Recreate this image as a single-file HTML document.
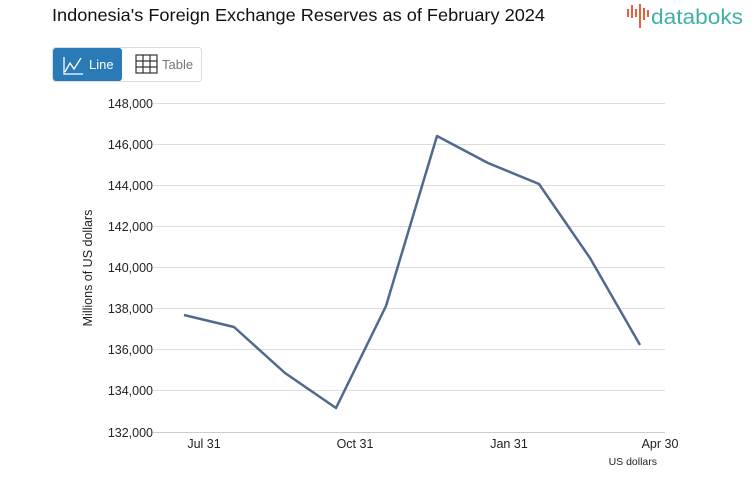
<!DOCTYPE html>
<html><head><style>
body{margin:0;background:#fff;width:753px;height:498px;overflow:hidden;font-family:"Liberation Sans",sans-serif}
</style></head><body>
<svg width="753" height="498" xmlns="http://www.w3.org/2000/svg" font-family="Liberation Sans, sans-serif">
<text x="52" y="21" font-size="17.5" fill="#111" textLength="493" lengthAdjust="spacingAndGlyphs">Indonesia's Foreign Exchange Reserves as of February 2024</text>
<g fill="#e8603c"><rect x="627" y="9" width="2" height="8"/><rect x="631" y="5" width="2" height="13"/><rect x="635" y="9" width="2" height="8"/><rect x="639" y="4" width="2" height="24"/><rect x="643" y="8" width="2" height="12"/><rect x="647" y="10" width="2" height="7"/></g>
<text x="651" y="24" font-size="21" fill="#3fb0a8" textLength="92" lengthAdjust="spacingAndGlyphs">databoks</text>
<rect x="52.5" y="47.5" width="149" height="34" rx="3" fill="#fff" stroke="#ddd"/>
<rect x="53" y="48" width="69" height="33" rx="3" fill="#2a7ab8"/>
<path d="M64 57 V74 H83 M65 72 L70 63 L74 69 L81 58" stroke="#fff" stroke-width="1.3" fill="none"/>
<text x="89" y="69" font-size="13" fill="#fff">Line</text>
<g stroke="#333" stroke-width="1.2" fill="none"><rect x="136" y="55" width="21" height="18"/><path d="M143 55V73M150 55V73M136 61H157M136 67H157"/></g>
<text x="162" y="69" font-size="13" fill="#777">Table</text>
<g stroke="#ddd" stroke-width="1">
<path d="M153 103.5H665M153 144.5H665M153 185.5H665M153 226.5H665M153 267.5H665M153 308.5H665M153 349.5H665M153 390.5H665"/>
</g>
<path d="M153 432.5H665" stroke="#ccc"/>
<g font-size="12.5" fill="#222" text-anchor="end">
<text x="153" y="108">148,000</text><text x="153" y="149">146,000</text><text x="153" y="190">144,000</text><text x="153" y="231">142,000</text><text x="153" y="272">140,000</text><text x="153" y="313">138,000</text><text x="153" y="354">136,000</text><text x="153" y="395">134,000</text><text x="153" y="437">132,000</text>
</g>
<g font-size="12.5" fill="#222" text-anchor="middle">
<text x="204" y="448">Jul 31</text><text x="355" y="448">Oct 31</text><text x="509" y="448">Jan 31</text><text x="660" y="448">Apr 30</text>
</g>
<text x="657" y="465" font-size="10.5" fill="#222" text-anchor="end">US dollars</text>
<text transform="translate(92 268) rotate(-90)" font-size="12.5" fill="#222" text-anchor="middle">Millions of US dollars</text>
<polyline points="184,315 234,327 285,373 336,408 386,306 437,136 488,163 539,184 590,258 640,345" fill="none" stroke="#4f6a8c" stroke-width="2.5" stroke-linejoin="round"/>
</svg>
</body></html>
